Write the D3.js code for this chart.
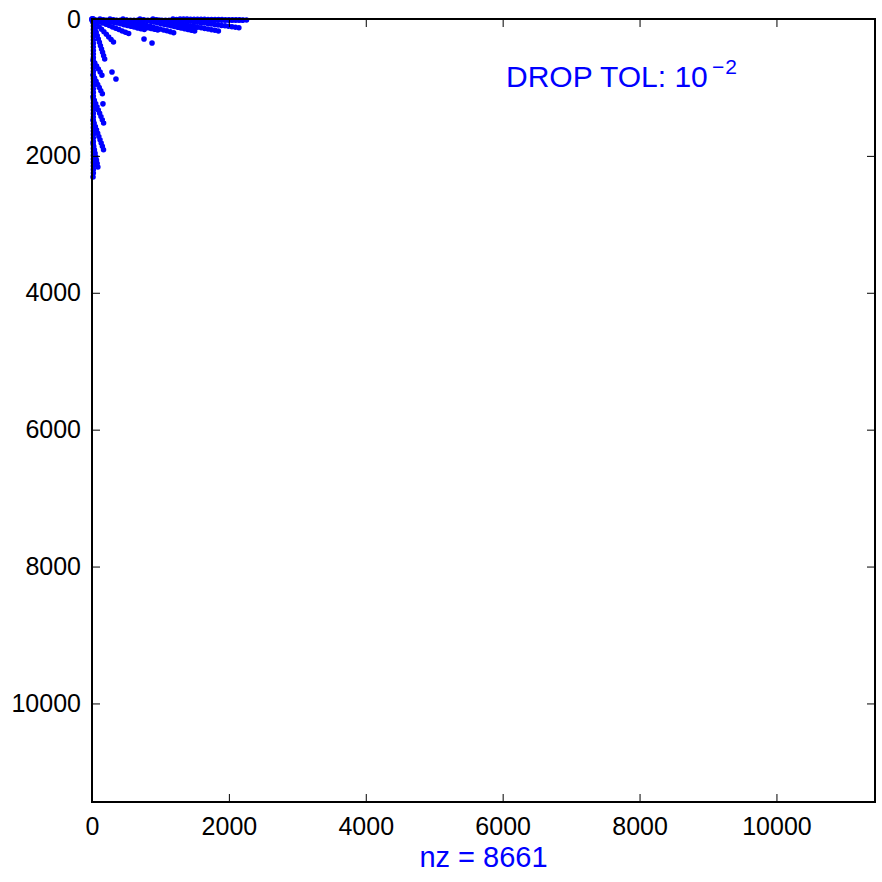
<!DOCTYPE html>
<html>
<head>
<meta charset="utf-8">
<script src="https://cdn.jsdelivr.net/npm/d3@7"></script>
<style>
  body { margin: 0; background: #fff; }
  text { font-family: "Liberation Sans", Arial, sans-serif; }
</style>
</head>
<body>
<div id="chart"></div>
<script>
// matrix size (axis limit is n+1 as in spy)
const nLimit = 11440;
const tickValues = [0, 2000, 4000, 6000, 8000, 10000];

// streaks of nonzeros: [col0, row0, col1, row1]
const upperStreaks = [
    [0, 0, 336, 360],
    [15, 0, 580, 230],
    [117, 0, 790, 160],
    [263, 0, 1000, 170],
    [453, 0, 1230, 210],
    [701, 0, 1520, 180],
    [891, 0, 1880, 180],
    [1183, 0, 2170, 130],
    [1286, 0, 2308, 15],
    [0, 20, 2250, 20]
];
const leftStreaks = [
    [0, 0, 190, 600],
    [15, 600, 170, 862],
    [15, 818, 160, 1110],
    [15, 1140, 170, 1520],
    [15, 1475, 170, 1914],
    [15, 1811, 95, 2206],
    [20, 0, 20, 2290]
];
// single nonzeros: [col, row]
const isolatedDots = [
    [760, 292], [877, 350],
    [292, 774], [350, 877],
    [160, 1240], [15, 2308]
];
const nzCount = 8661;
const dropTol = "10";
const dropTolExp = "−2";

const W = 882, H = 882;
const padLeft = 92, padTop = 19, size = 783;

const svg = d3.select("#chart")
    .append("svg")
    .attr("width", W)
    .attr("height", H);

const x = d3.scaleLinear().domain([0, nLimit]).range([padLeft, padLeft + size]);
const y = d3.scaleLinear().domain([0, nLimit]).range([padTop, padTop + size]);

// nonzero markers
const blue = "#0000ff";
const plot = svg.append("g");

plot.selectAll("line.streak")
    .data(upperStreaks.concat(leftStreaks))
    .join("line")
    .attr("class", "streak")
    .attr("x1", d => x(d[0]))
    .attr("y1", d => y(d[1]))
    .attr("x2", d => x(d[2]))
    .attr("y2", d => y(d[3]))
    .attr("stroke", blue)
    .attr("stroke-width", 5.5)
    .attr("stroke-linecap", "round")
    .attr("stroke-dasharray", "0 3.5");

plot.selectAll("circle.dot")
    .data(isolatedDots)
    .join("circle")
    .attr("class", "dot")
    .attr("cx", d => x(d[0]))
    .attr("cy", d => y(d[1]))
    .attr("r", 2.8)
    .attr("fill", blue);

// axes (ticks inward, box with mirrored ticks)
const tickLen = 8;
const axisFont = 25;

svg.append("g")
    .attr("transform", `translate(0,${padTop + size})`)
    .call(d3.axisBottom(x).tickValues(tickValues).tickSize(-tickLen).tickPadding(15).tickFormat(d3.format("d")))
    .call(g => g.selectAll("text").attr("font-size", axisFont).attr("fill", "#000").attr("font-family", "Liberation Sans, Arial, sans-serif"));

svg.append("g")
    .attr("transform", `translate(${padLeft},0)`)
    .call(d3.axisLeft(y).tickValues(tickValues).tickSize(-tickLen).tickPadding(11).tickFormat(d3.format("d")))
    .call(g => g.selectAll("text").attr("font-size", axisFont).attr("fill", "#000").attr("font-family", "Liberation Sans, Arial, sans-serif"));

svg.append("g")
    .attr("transform", `translate(0,${padTop})`)
    .call(d3.axisTop(x).tickValues(tickValues).tickSize(-tickLen).tickFormat(""));

svg.append("g")
    .attr("transform", `translate(${padLeft + size},0)`)
    .call(d3.axisRight(y).tickValues(tickValues).tickSize(-tickLen).tickFormat(""));

svg.selectAll(".domain").remove();
svg.selectAll(".tick line").attr("stroke", "#000").attr("stroke-width", 1);

svg.append("rect")
    .attr("x", padLeft)
    .attr("y", padTop)
    .attr("width", size)
    .attr("height", size)
    .attr("fill", "none")
    .attr("stroke", "#000")
    .attr("stroke-width", 2);

// annotations
svg.append("text")
    .attr("x", 506)
    .attr("y", 87)
    .attr("font-size", 30)
    .attr("fill", blue)
    .text("DROP TOL: " + dropTol);

svg.append("text")
    .attr("x", 712)
    .attr("y", 74)
    .attr("font-size", 21)
    .attr("letter-spacing", 1)
    .attr("fill", blue)
    .text(dropTolExp);

svg.append("text")
    .attr("x", padLeft + size / 2)
    .attr("y", 867)
    .attr("text-anchor", "middle")
    .attr("font-size", 29)
    .attr("fill", blue)
    .text("nz = " + nzCount);
</script>
</body>
</html>
